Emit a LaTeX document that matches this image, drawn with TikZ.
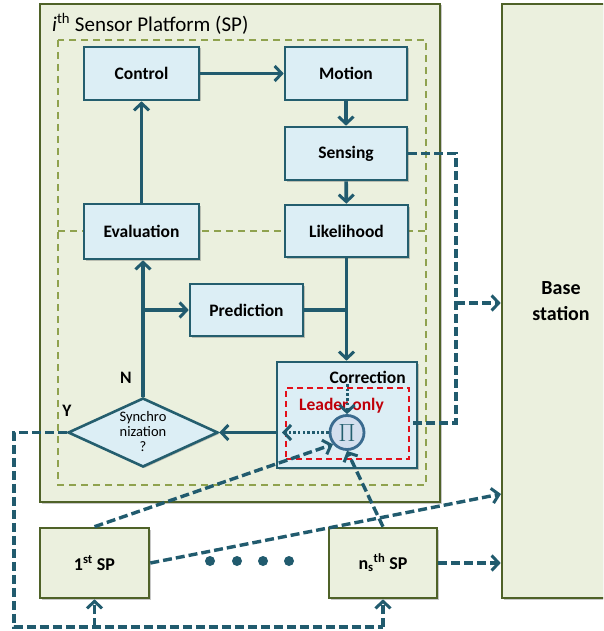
\documentclass[tikz,border=0pt]{standalone}
\usepackage{fontspec}
\setmainfont{Carlito}
\usetikzlibrary{arrows.meta,shapes.geometric,shadows}
\definecolor{boxf}{HTML}{DCEEF5}
\definecolor{boxb}{HTML}{245E6E}
\definecolor{arrc}{HTML}{215B6E}
\definecolor{spf}{HTML}{EBF0DE}
\definecolor{spb}{HTML}{4F6228}
\definecolor{inb}{HTML}{8FA24E}
\definecolor{redd}{HTML}{E3101B}
\definecolor{redt}{HTML}{C0000A}
\definecolor{pif}{HTML}{D3DFEE}
\definecolor{pib}{HTML}{3A6B8F}
\tikzset{
 shd/.style={drop shadow={shadow xshift=1.5pt,shadow yshift=-1.5pt,opacity=0.3,fill=black!70}},
 blk/.style={draw=boxb, fill=boxf, line width=2.6pt, rectangle, inner sep=0pt, font=\bfseries\fontsize{17.5}{20}\selectfont, shd},
 spbox/.style={draw=spb, fill=spf, line width=2.6pt, rectangle, inner sep=0pt, font=\bfseries\fontsize{18}{22}\selectfont, shd},
 tp/.style={-{Straight Barb[length=7pt,width=15pt,line width=3pt]}},
 arr/.style={draw=arrc, line width=3.6pt, tp},
 ln/.style={draw=arrc, line width=3.6pt},
 dsh/.style={draw=arrc, line width=3.4pt, dash pattern=on 9pt off 4pt},
 dsharr/.style={dsh, tp},
 dotarr/.style={draw=arrc, line width=3pt, dash pattern=on 2.5pt off 2.2pt, tp},
 lbl/.style={font=\bfseries\fontsize{17.5}{20}\selectfont, inner sep=0pt},
}
\begin{document}
\begin{tikzpicture}[x=1pt,y=-1pt]
\clip (0,0) rectangle (603,631);
\fill[white] (0,0) rectangle (603,631);
% frames
\node[spbox, minimum width=400pt, minimum height=498pt] (sp) at (240,253) {};
\node[spbox, minimum width=118pt, minimum height=594pt, font=\bfseries\fontsize{20}{26}\selectfont, align=center] (base) at (561,301) {Base\\station};
\node[anchor=west, font=\fontsize{21}{24}\selectfont, inner sep=0pt] (title) at (52,24) {\textit{i}\textsuperscript{th} Sensor Platform (SP)};
\draw[inb, line width=1.6pt, dash pattern=on 7pt off 5pt] (58,40) rectangle (426,485);
\draw[inb, line width=1.6pt, dash pattern=on 7pt off 5pt] (58,231) -- (426,231);
% blocks
\node[blk, minimum width=115pt, minimum height=53pt] (ctrl) at (141.5,73.5) {Control};
\node[blk, minimum width=122pt, minimum height=53pt] (mot) at (346,73.5) {Motion};
\node[blk, minimum width=122pt, minimum height=53pt] (sens) at (346,153.5) {Sensing};
\node[blk, minimum width=123pt, minimum height=52pt] (lik) at (346.5,231) {Likelihood};
\node[blk, minimum width=115pt, minimum height=55pt] (eva) at (141.5,231.5) {Evaluation};
\node[blk, minimum width=113pt, minimum height=52pt] (pred) at (246.5,310) {Prediction};
\node[blk, minimum width=140pt, minimum height=106pt] (corr) at (347,415) {};
\node[lbl, anchor=east] (corrt) at (406,377) {Correction};
\node[draw=redd, line width=1.8pt, dash pattern=on 6pt off 4pt, minimum width=123pt, minimum height=71pt, inner sep=0pt] (lead) at (347.5,423.5) {};
\node[lbl, text=redt] (leadt) at (341.5,406) {Leader only};
\node[circle, draw=pib, fill=pif, line width=2.8pt, minimum size=34pt, inner sep=0pt, text=boxb, font=\fontsize{28}{28}\selectfont] (pi) at (347,432.5) {$\Pi$};
\node[diamond, draw=boxb, fill=boxf, line width=2.6pt, minimum width=150pt, minimum height=69pt, inner sep=0pt, shd] (syn) at (143,432.5) {};
\node[font=\fontsize{14.5}{15}\selectfont, align=center, inner sep=0pt] (syntxt) at (143,432) {Synchro\\nization\\?};
\node[lbl] (nlab) at (126,378) {N};
\node[lbl] (ylab) at (67,411) {Y};
\node[spbox, minimum width=109pt, minimum height=70pt] (sp1) at (94.5,563) {1\textsuperscript{st} SP};
\node[spbox, minimum width=108pt, minimum height=70pt] (nsp) at (383,563) {n\textsubscript{s}\textsuperscript{th} SP};
\foreach \i/\x in {1/210,2/237,3/263,4/289}
  \node[circle, fill=arrc, inner sep=0pt, minimum size=10pt] (d\i) at (\x,561) {};
% connectors
\draw[arr] (ctrl) -- (mot);
\draw[arr] (mot) -- (sens);
\draw[arr] (sens) -- (lik);
\draw[arr] (lik.south) -- (lik.south |- corr.north);
\coordinate (pj) at (lik.south |- pred.east);
\draw[ln] (pred.east) -- (pj);
\draw[arr] (syn.north) -- (syn.north |- eva.south);
\coordinate (nb) at (syn.north |- pred.west);
\draw[arr] (nb) -- (pred.west);
\draw[arr] (eva) -- (ctrl);
\draw[arr] (corr.west |- syn.east) -- (syn.east);
\coordinate (pw) at (282,432.5);
\draw[dotarr] (pi.west) -- (pw);
\coordinate (pt) at (347,384);
\draw[dotarr] (pt) -- (pi.north);
\coordinate (s1) at (456,153.5);
\coordinate (s2) at (456,423);
\coordinate (s3) at (456,303);
\draw[dsh] (sens.east) -- (s1) -- (s2) -- (lead.east |- s2);
\draw[dsharr] (s3) -- (s3 -| base.west);
\coordinate (y1) at (14,432.5);
\coordinate (y2) at (14,627);
\draw[dsh] (syn.west) -- (y1) -- (y2) -- (y2 -| nsp.south);
\draw[dsharr] (y2 -| sp1.south) -- (sp1.south);
\draw[dsharr] (y2 -| nsp.south) -- (nsp.south);
\draw[dsharr] (sp1.north) -- (pi.220);
\draw[dsharr] (nsp.north) -- (pi.south);
\coordinate (b1) at (501,494);
\draw[dsharr] (sp1.east) -- (b1);
\draw[dsharr] (nsp.east) -- (nsp.east -| base.west);
\end{tikzpicture}
\end{document}
